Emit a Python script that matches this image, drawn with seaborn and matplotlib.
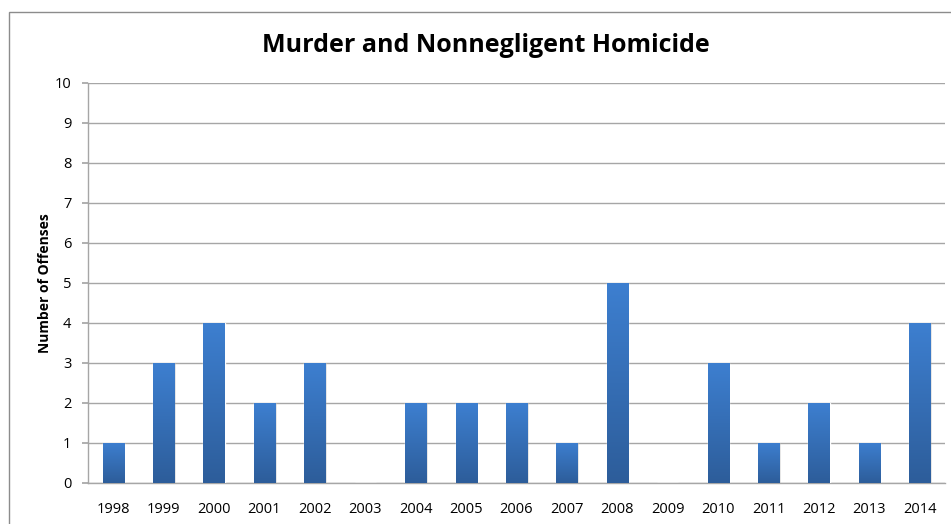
import numpy as np
import pandas as pd
import matplotlib
matplotlib.use("Agg")
import matplotlib.pyplot as plt
import matplotlib.colors as mcolors
from matplotlib.patches import Rectangle
import seaborn as sns

# Chart data
years = ["1998", "1999", "2000", "2001", "2002", "2003", "2004", "2005", "2006",
         "2007", "2008", "2009", "2010", "2011", "2012", "2013", "2014"]
offenses = [1, 3, 4, 2, 3, 0, 2, 2, 2, 1, 5, 0, 3, 1, 2, 1, 4]
y_ticks = list(range(0, 11))

title = "Murder and Nonnegligent Homicide"
y_label = "Number of Offenses"

sns.set_theme(style="white")
plt.rcParams['font.family'] = ['Open Sans', 'DejaVu Sans']

df = pd.DataFrame({"year": years, "offenses": offenses})

fig = plt.figure(figsize=(9.51, 5.24), dpi=100)
ax = fig.add_axes([88 / 951, 1 - 483 / 524, (945 - 88) / 951, (483 - 83) / 524])

sns.barplot(data=df, x="year", y="offenses", color="#3a76c4", width=0.42,
            ax=ax, zorder=3, saturation=1)

# Gradient fill in each bar (lighter at top, darker at base)
cmap = mcolors.LinearSegmentedColormap.from_list("bar_grad", ["#2d5d9a", "#3d7fd0"])
grad = np.linspace(0, 1, 256).reshape(-1, 1)
for bar in ax.patches:
    x0, y0 = bar.get_x(), bar.get_y()
    w, h = bar.get_width(), bar.get_height()
    if h <= 0:
        continue
    # soft shadow
    ax.add_patch(Rectangle((x0 + 0.03, y0), w, h - 0.03, color="#000000",
                           alpha=0.12, zorder=2, lw=0))
    im = ax.imshow(grad, cmap=cmap, aspect="auto", origin="lower",
                   extent=(x0, x0 + w, y0, y0 + h), zorder=4,
                   interpolation="bilinear")
    im.set_clip_path(bar)

ax.set_xlim(-0.5, len(years) - 0.5)
ax.set_ylim(0, 10)
ax.set_yticks(y_ticks)
ax.yaxis.grid(True, color="#a6a6a6", linewidth=1, zorder=0)
ax.set_axisbelow(True)

for s in ["top", "right"]:
    ax.spines[s].set_visible(False)
for s in ["left", "bottom"]:
    ax.spines[s].set_color("#a6a6a6")
    ax.spines[s].set_linewidth(1)

ax.tick_params(axis="y", which="both", left=True, length=4, color="#a6a6a6",
               labelsize=10.5, pad=8, labelcolor="#000000")
ax.tick_params(axis="x", bottom=False, labelsize=10.5, pad=8, labelcolor="#000000")
ax.set_xlabel("")
ax.set_ylabel(y_label, fontsize=10, fontweight="bold", labelpad=2, color="#000000")

fig.text(486 / 951, 1 - 45 / 524, title, ha="center", va="center",
         fontsize=18, fontweight="bold", color="#000000")

# Chart border (extends past the right and bottom edges)
fig.patches.append(Rectangle((9 / 951, -0.05), 1.0, 1 - 12 / 524 + 0.05,
                             transform=fig.transFigure, fill=False,
                             edgecolor="#8c8c8c", linewidth=1))

fig.savefig("out.png", dpi=100)
